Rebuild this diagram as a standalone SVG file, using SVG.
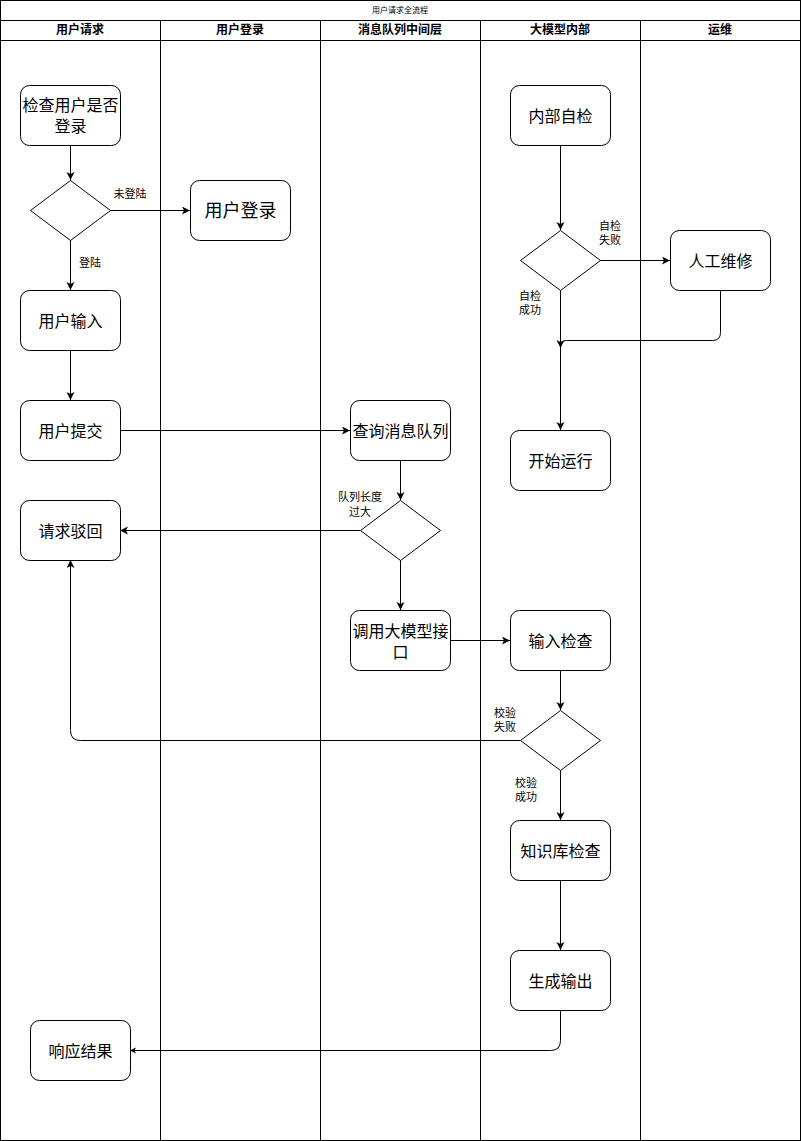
<svg xmlns="http://www.w3.org/2000/svg" width="802" height="1141" viewBox="0 0 802 1141">
<style>
.lane{fill:none;stroke:#000;stroke-width:1}
.node rect{fill:#fff;stroke:#000;stroke-width:1}
.node polygon{fill:#fff;stroke:#000;stroke-width:1}
.t{font-family:"Liberation Sans","Noto Sans CJK SC",sans-serif;fill:#000;text-anchor:middle;dominant-baseline:central}
.n{font-size:16px}
.lbl{font-family:"Liberation Sans","Noto Sans CJK SC",sans-serif;font-size:11px;fill:#000;text-anchor:middle;dominant-baseline:central}
.hd{font-size:12px;font-weight:bold}
.e{fill:none;stroke:#000;stroke-width:1}
</style>
<defs>
<marker id="ah" markerWidth="10" markerHeight="10" refX="8" refY="4" orient="auto" markerUnits="userSpaceOnUse">
<path d="M0,0 L8,4 L0,8 L2,4 z" fill="#000"/>
</marker>
<marker id="ahs" markerWidth="8" markerHeight="8" refX="6" refY="3" orient="auto" markerUnits="userSpaceOnUse">
<path d="M0,0 L6,3 L0,6 L1.5,3 z" fill="#000"/>
</marker>
</defs>
<rect width="802" height="1141" fill="#fff"/>
<g id="pool">
<rect class="lane" x="0.5" y="0.5" width="800" height="1140"/>
<line class="lane" x1="0.5" y1="20.5" x2="800.5" y2="20.5"/>
<line class="lane" x1="0.5" y1="40.5" x2="800.5" y2="40.5"/>
<line class="lane" x1="160.5" y1="20.5" x2="160.5" y2="1140.5"/>
<line class="lane" x1="320.5" y1="20.5" x2="320.5" y2="1140.5"/>
<line class="lane" x1="480.5" y1="20.5" x2="480.5" y2="1140.5"/>
<line class="lane" x1="640.5" y1="20.5" x2="640.5" y2="1140.5"/>
<text class="t" x="400" y="10" font-size="8">用户请求全流程</text>
<text class="t hd" x="80" y="30">用户请求</text>
<text class="t hd" x="240" y="30">用户登录</text>
<text class="t hd" x="400" y="30">消息队列中间层</text>
<text class="t hd" x="560" y="30">大模型内部</text>
<text class="t hd" x="720" y="30">运维</text>
</g>
<g id="connectors">
<path class="e" d="M70.5,145 L70.5,180" marker-end="url(#ah)"/>
<path class="e" d="M110,210.5 L190,210.5" marker-end="url(#ah)"/>
<text class="lbl" x="130" y="194">未登陆</text>
<path class="e" d="M70.5,240 L70.5,290" marker-end="url(#ah)"/>
<text class="lbl" x="90" y="263">登陆</text>
<path class="e" d="M70.5,350 L70.5,400" marker-end="url(#ah)"/>
<path class="e" d="M120,430.5 L350,430.5" marker-end="url(#ah)"/>
<path class="e" d="M400.5,460 L400.5,500" marker-end="url(#ah)"/>
<path class="e" d="M360,530.5 L120,530.5" marker-end="url(#ah)"/>
<text class="lbl" x="360" y="497">队列长度</text>
<text class="lbl" x="360" y="512">过大</text>
<path class="e" d="M400.5,560 L400.5,610" marker-end="url(#ah)"/>
<path class="e" d="M450,640.5 L510,640.5" marker-end="url(#ah)"/>
<path class="e" d="M560.5,670 L560.5,710" marker-end="url(#ah)"/>
<path class="e" d="M520,740.5 L80.5,740.5 Q70.5,740.5 70.5,730.5 L70.5,560" marker-end="url(#ah)"/>
<text class="lbl" x="505" y="713">校验</text>
<text class="lbl" x="505" y="727">失败</text>
<path class="e" d="M560.5,770 L560.5,820" marker-end="url(#ah)"/>
<text class="lbl" x="526" y="783">校验</text>
<text class="lbl" x="526" y="797">成功</text>
<path class="e" d="M560.5,880 L560.5,950" marker-end="url(#ah)"/>
<path class="e" d="M560.5,1010 L560.5,1040.5 Q560.5,1050.5 550.5,1050.5 L130,1050.5" marker-end="url(#ahs)"/>
<path class="e" d="M560.5,145 L560.5,230" marker-end="url(#ah)"/>
<path class="e" d="M600,260.5 L670,260.5" marker-end="url(#ah)"/>
<text class="lbl" x="610" y="226">自检</text>
<text class="lbl" x="610" y="240">失败</text>
<path class="e" d="M560.5,290 L560.5,430" marker-end="url(#ah)"/>
<text class="lbl" x="530" y="296">自检</text>
<text class="lbl" x="530" y="310">成功</text>
<path class="e" d="M720.5,290 L720.5,332.5 Q720.5,340.5 712.5,340.5 L566.5,340.5 Q560.5,340.5 560.5,348" marker-end="url(#ah)"/>
</g>
<g id="n-check" class="node"><rect x="20.5" y="85.5" width="100" height="60" rx="9"/><text class="t n" x="70.5" y="105">检查用户是否</text><text class="t n" x="70.5" y="126">登录</text></g>
<g id="n-d1" class="node"><polygon points="70.5,180.5 110.5,210.5 70.5,240.5 30.5,210.5"/></g>
<g id="n-login" class="node"><rect x="190.5" y="180.5" width="100" height="60" rx="9"/><text class="t" font-size="18" x="240.5" y="211">用户登录</text></g>
<g id="n-input" class="node"><rect x="20.5" y="290.5" width="100" height="60" rx="9"/><text class="t n" x="70.5" y="321" font-size="15">用户输入</text></g>
<g id="n-submit" class="node"><rect x="20.5" y="400.5" width="100" height="60" rx="9"/><text class="t n" x="70.5" y="431" font-size="15">用户提交</text></g>
<g id="n-reject" class="node"><rect x="20.5" y="500.5" width="100" height="60" rx="9"/><text class="t n" x="70.5" y="531" font-size="15">请求驳回</text></g>
<g id="n-queue" class="node"><rect x="350.5" y="400.5" width="100" height="60" rx="9"/><text class="t n" x="400.5" y="431">查询消息队列</text></g>
<g id="n-d2" class="node"><polygon points="400.5,500.5 440.5,530.5 400.5,560.5 360.5,530.5"/></g>
<g id="n-call" class="node"><rect x="350.5" y="610.5" width="100" height="60" rx="9"/><text class="t n" x="400.5" y="631">调用大模型接</text><text class="t n" x="400.5" y="652">口</text></g>
<g id="n-selfcheck" class="node"><rect x="510.5" y="85.5" width="100" height="60" rx="9"/><text class="t n" x="560.5" y="116">内部自检</text></g>
<g id="n-d3" class="node"><polygon points="560.5,230.5 600.5,260.5 560.5,290.5 520.5,260.5"/></g>
<g id="n-repair" class="node"><rect x="670.5" y="230.5" width="100" height="60" rx="9"/><text class="t n" x="720.5" y="261">人工维修</text></g>
<g id="n-run" class="node"><rect x="510.5" y="430.5" width="100" height="60" rx="9"/><text class="t n" x="560.5" y="461">开始运行</text></g>
<g id="n-incheck" class="node"><rect x="510.5" y="610.5" width="100" height="60" rx="9"/><text class="t n" x="560.5" y="641">输入检查</text></g>
<g id="n-d4" class="node"><polygon points="560.5,710.5 600.5,740.5 560.5,770.5 520.5,740.5"/></g>
<g id="n-kb" class="node"><rect x="510.5" y="820.5" width="100" height="60" rx="9"/><text class="t n" x="560.5" y="851">知识库检查</text></g>
<g id="n-gen" class="node"><rect x="510.5" y="950.5" width="100" height="60" rx="9"/><text class="t n" x="560.5" y="981">生成输出</text></g>
<g id="n-resp" class="node"><rect x="30.5" y="1020.5" width="100" height="60" rx="9"/><text class="t n" x="80.5" y="1051" font-size="15">响应结果</text></g>
</svg>
